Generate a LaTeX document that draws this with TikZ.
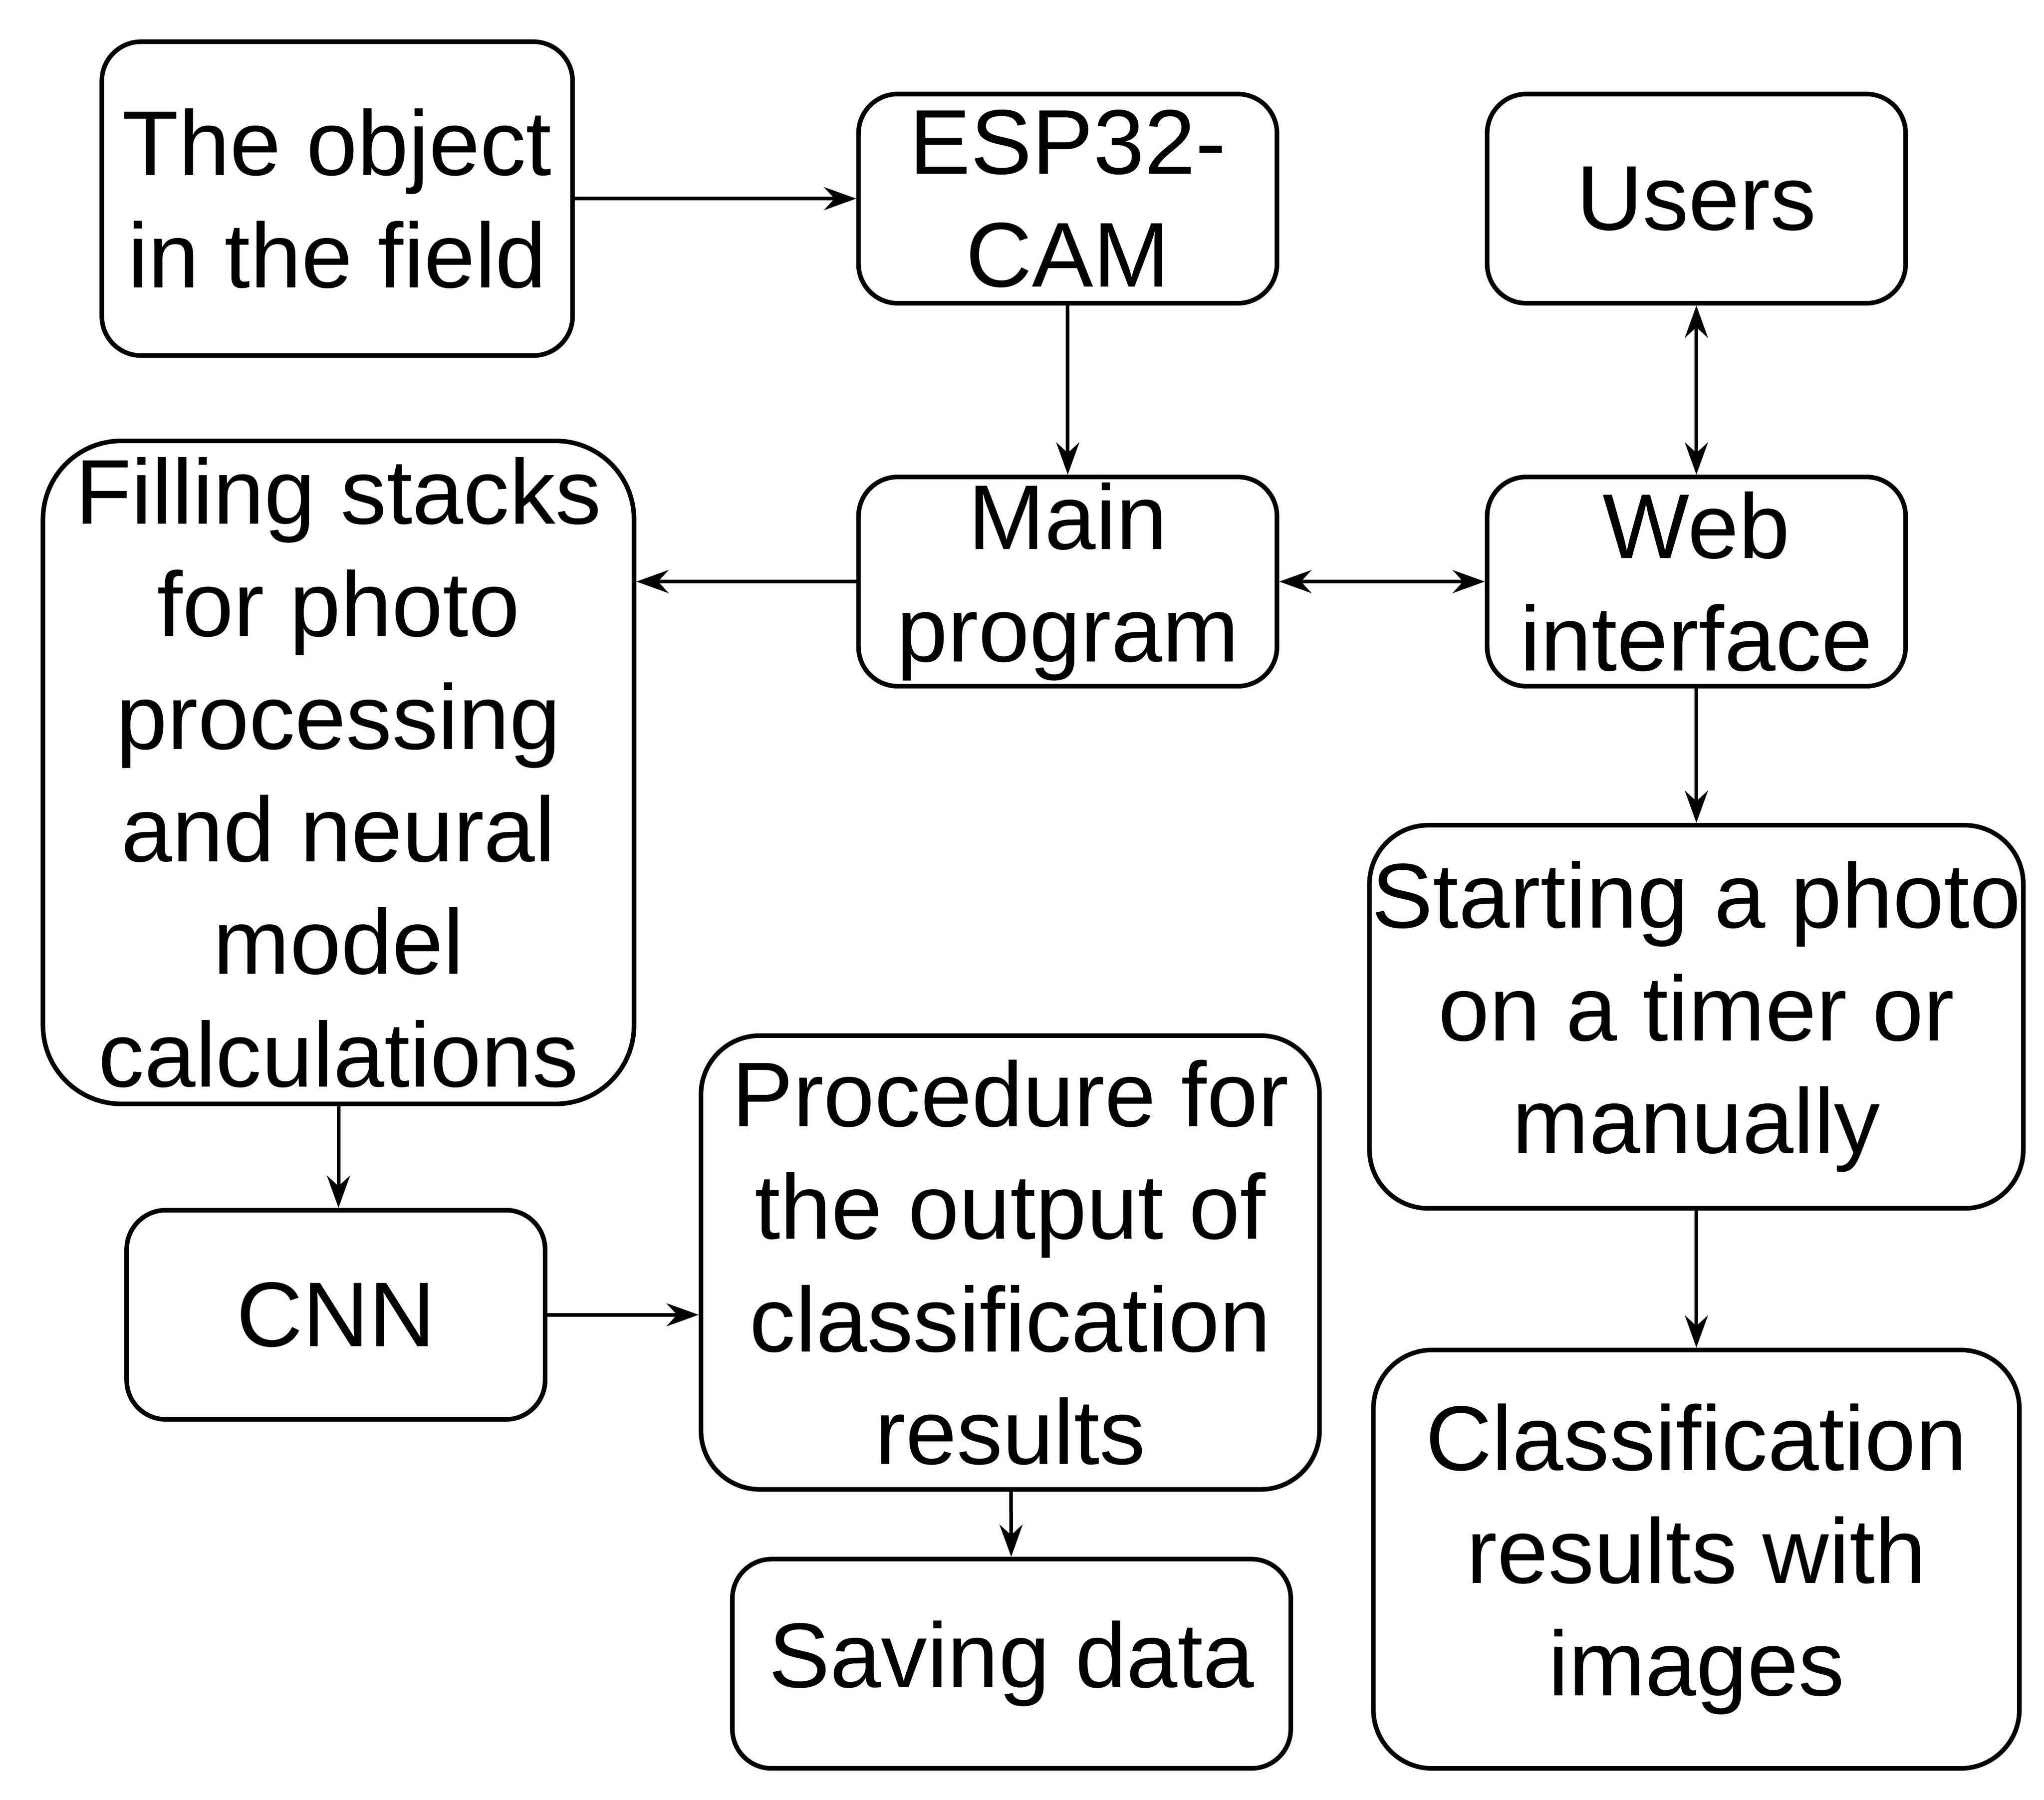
\documentclass[tikz,border=0pt]{standalone}
\usepackage{fontspec}
\setmainfont{Liberation Sans}
\usetikzlibrary{arrows.meta}
\begin{document}
\begin{tikzpicture}[x=0.01cm,y=-0.01cm,
 box/.style={draw,line width=1pt,rounded corners=0.3cm,align=center,inner sep=0pt,
   font=\fontsize{20}{24.5}\selectfont},
 arr/.style={line width=0.8pt,-{Stealth[length=7pt,width=5pt]}},
 darr/.style={line width=0.8pt,{Stealth[length=7pt,width=5pt]}-{Stealth[length=7pt,width=5pt]}}]
\useasboundingbox (0,0) rectangle (1564,1377);
\node[box,minimum width=3.6cm,minimum height=2.4cm] (A) at (258,152) {The object\\in the field};
\node[box,minimum width=3.2cm,minimum height=1.6cm] (B) at (817,152) {ESP32-\\CAM};
\node[box,minimum width=3.2cm,minimum height=1.6cm] (C) at (1298,152) {Users};
\node[box,minimum width=3.2cm,minimum height=1.6cm] (D) at (817,445) {Main\\program};
\node[box,minimum width=3.2cm,minimum height=1.6cm] (E) at (1298,445) {Web\\interface};
\node[box,rounded corners=0.6cm,minimum width=4.52cm,minimum height=5.07cm] (F) at (259,591) {Filling stacks\\for photo\\processing\\and neural\\model\\calculations};
\node[box,rounded corners=0.45cm,minimum width=5cm,minimum height=2.93cm] (G) at (1298,778) {Starting a photo\\on a timer or\\manually};
\node[box,minimum width=3.2cm,minimum height=1.6cm] (H) at (257,1006) {CNN};
\node[box,rounded corners=0.45cm,minimum width=4.73cm,minimum height=3.47cm] (I) at (773,966) {Procedure for\\the output of\\classification\\results};
\node[box,minimum width=4.27cm,minimum height=1.6cm] (J) at (774,1273) {Saving data};
\node[box,rounded corners=0.45cm,minimum width=4.94cm,minimum height=3.2cm] (K) at (1298,1193) {Classification\\results with\\images};
\draw[arr] (A) -- (B);
\draw[arr] (B) -- (D);
\draw[arr] (D.west) -- (D.west -| F.east);
\draw[darr] (D) -- (E);
\draw[darr] (C) -- (E);
\draw[arr] (E) -- (G);
\draw[arr] (G) -- (K);
\draw[arr] (F.south |- F.south) -- (F.south |- H.north);
\draw[arr] (H) -- (H -| I.west);
\draw[arr] (I) -- (J);
\end{tikzpicture}
\end{document}
